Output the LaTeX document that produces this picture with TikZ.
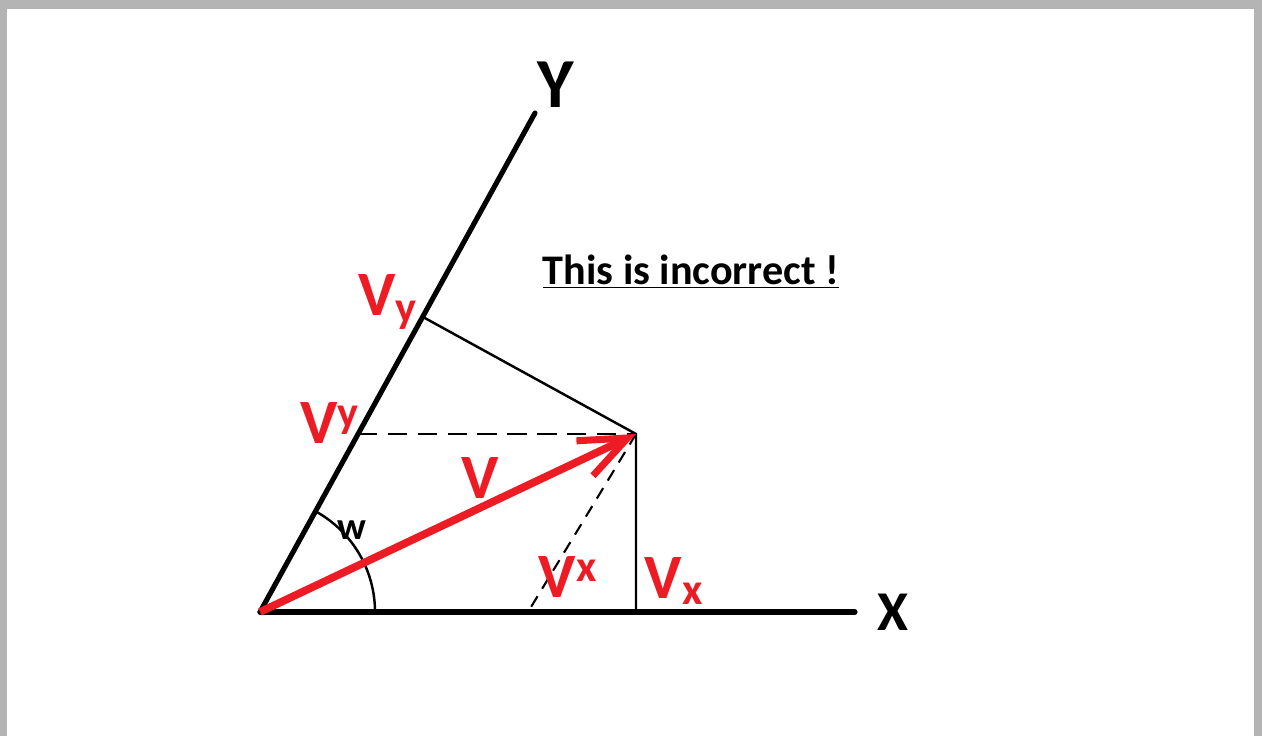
\documentclass[tikz,border=0pt]{standalone}
\usepackage{fontspec}
\setmainfont{Carlito}
\usetikzlibrary{arrows.meta}
\definecolor{vred}{HTML}{ED1C24}
\definecolor{framegray}{HTML}{B4B4B4}

\begin{document}
\begin{tikzpicture}[x=0.02cm,y=-0.02cm,
      axis/.style={line width=2.9pt,line cap=round},
      proj/.style={line width=1.4pt},
      longdash/.style={line width=1.4pt,dash pattern=on 11pt off 6pt},
      shortdash/.style={line width=1.2pt,dash pattern=on 7pt off 5pt},
      vec/.style={draw=vred,line width=4.4pt,-{Straight Barb[length=27pt,width=22pt,line width=4pt]}},
      lbl/.style={text=vred,font=\bfseries\fontsize{36}{36}\selectfont,inner sep=0pt},
      axlbl/.style={font=\bfseries\fontsize{40}{40}\selectfont,inner sep=0pt}]
    \useasboundingbox (0,0) rectangle (1262,736);
    \fill[framegray] (0,0) rectangle (1262,736);
    \fill[white] (7,9) rectangle (1254,736);
    \coordinate (O) at (260,612);
    \coordinate (P) at (636,434);
    \coordinate (xend) at (855,612);
    \coordinate (yend) at (535,113);
    \coordinate (vyfoot) at (423,317);
    \coordinate (vydash) at (358,434);
    \coordinate (vxfoot) at (636,612);
    \coordinate (vxdash) at (528,612);
    \node[axlbl] (ylab) at (556,85) {Y};
    \node[axlbl,font=\bfseries\fontsize{32}{32}\selectfont] (xlab) at (893,612) {X};
    \node[font=\bfseries\fontsize{24}{24}\selectfont] (note) at (691,272) {\underline{This is incorrect !}};
    \draw[axis] (O) -- (xend);
    \draw[axis] (O) -- (yend);
    \draw[proj] (vyfoot) -- (P) -- (vxfoot);
    \draw[longdash] (vydash) -- (P);
    \draw[shortdash] (P) -- (vxdash);
    \draw[proj] (O) ++(115,0) arc[start angle=0,end angle=-61,radius=115];
    \node[font=\bfseries\fontsize{22}{22}\selectfont,inner sep=0pt] (wlab) at (352,530) {w};
    \draw[vec] (O) -- (P);
    \node[lbl] (vylow) at (388,302) {V\textsubscript{y}};
    \node[lbl] (vyup) at (330,423) {V\textsuperscript{y}};
    \node[lbl] (vlab) at (480,478) {V};
    \node[lbl] (vxup) at (568,577) {V\textsuperscript{x}};
    \node[lbl] (vxlow) at (674,581) {V\textsubscript{x}};
  \end{tikzpicture}
\end{document}
